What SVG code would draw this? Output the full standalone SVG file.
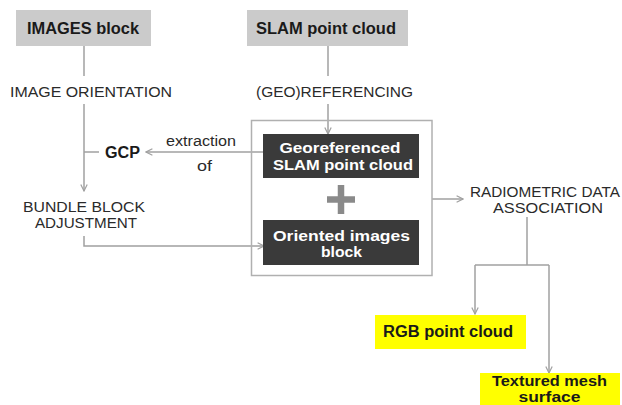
<svg xmlns="http://www.w3.org/2000/svg" width="622" height="405" viewBox="0 0 622 405">
<defs>
<style>
text{font-family:"Liberation Sans",Arial,sans-serif;}
.lbl{font-size:14px;fill:#2a2a2a;text-anchor:middle;}
.hdr{font-size:16px;font-weight:bold;fill:#1a1a1a;text-anchor:middle;}
.hdr2{font-size:14px;font-weight:bold;fill:#1a1a1a;text-anchor:middle;}
.dk{font-size:15px;font-weight:bold;fill:#ffffff;text-anchor:middle;}
.dk2{font-size:14px;font-weight:bold;fill:#ffffff;text-anchor:middle;}
.gray{fill:#cbcbcb;}
.dark{fill:#3a3a3a;}
.yel{fill:#ffff00;}
.ln{fill:none;stroke:#a0a0a0;stroke-width:1.5;}
</style>
<marker id="ah" viewBox="0 0 10 10" refX="9" refY="5" markerWidth="8" markerHeight="8" orient="auto" markerUnits="userSpaceOnUse">
<path d="M1,1 L9,5 L1,9" fill="none" stroke="#a0a0a0" stroke-width="1.5"/>
</marker>
</defs>
<rect width="622" height="405" fill="#ffffff"/>
<g id="connectors">
<path class="ln" d="M84,46 V76"/>
<path class="ln" d="M84,104 V191" marker-end="url(#ah)"/>
<path class="ln" d="M84,152 H99"/>
<path class="ln" d="M84,236 V246 H264" marker-end="url(#ah)"/>
<path class="ln" d="M328,46 V76"/>
<path class="ln" d="M328,104 V134" marker-end="url(#ah)"/>
<path class="ln" d="M263,152 H146" marker-end="url(#ah)"/>
<path class="ln" d="M432,199 H463" marker-end="url(#ah)"/>
<path class="ln" d="M527,217 V265"/>
<path class="ln" d="M475,265 H549"/>
<path class="ln" d="M475,265 V314" marker-end="url(#ah)"/>
<path class="ln" d="M549,265 V373" marker-end="url(#ah)"/>
</g>
<g id="images-block">
<rect class="gray" x="16" y="10" width="135" height="36"/>
<text class="hdr" x="83" y="34" textLength="112" lengthAdjust="spacingAndGlyphs">IMAGES block</text>
</g>
<g id="slam-point-cloud">
<rect class="gray" x="247" y="10" width="161" height="36"/>
<text class="hdr" x="326" y="34" textLength="140" lengthAdjust="spacingAndGlyphs">SLAM point cloud</text>
</g>
<g id="image-orientation">
<text class="lbl" x="91" y="97" textLength="162" lengthAdjust="spacingAndGlyphs">IMAGE ORIENTATION</text>
</g>
<g id="georeferencing">
<text class="lbl" x="334.5" y="97" textLength="157" lengthAdjust="spacingAndGlyphs">(GEO)REFERENCING</text>
</g>
<g id="gcp">
<text class="hdr" x="122.5" y="158" textLength="35" lengthAdjust="spacingAndGlyphs">GCP</text>
</g>
<g id="extraction-of">
<text class="lbl" x="201" y="146" textLength="70" lengthAdjust="spacingAndGlyphs">extraction</text>
<text class="lbl" x="204.5" y="171" textLength="15" lengthAdjust="spacingAndGlyphs">of</text>
</g>
<g id="bundle-block-adjustment">
<text class="lbl" x="84" y="212" textLength="122" lengthAdjust="spacingAndGlyphs">BUNDLE BLOCK</text>
<text class="lbl" x="86" y="228" textLength="102" lengthAdjust="spacingAndGlyphs">ADJUSTMENT</text>
</g>
<g id="combined-box">
<rect x="251.5" y="120.5" width="180.5" height="155" fill="none" stroke="#b0b0b0" stroke-width="1.5"/>
</g>
<g id="georeferenced-slam">
<rect class="dark" x="263" y="134" width="156" height="44"/>
<text class="dk" x="340" y="153" textLength="121" lengthAdjust="spacingAndGlyphs">Georeferenced</text>
<text class="dk" x="343" y="170" textLength="140" lengthAdjust="spacingAndGlyphs">SLAM point cloud</text>
</g>
<g id="plus">
<path d="M327,199.5 H355 M341,185 V214" stroke="#8a8a8a" stroke-width="6.5" fill="none"/>
</g>
<g id="oriented-images">
<rect class="dark" x="263" y="220" width="156" height="45"/>
<text class="dk2" x="341.5" y="241" textLength="137" lengthAdjust="spacingAndGlyphs">Oriented images</text>
<text class="dk2" x="341.5" y="257" textLength="41" lengthAdjust="spacingAndGlyphs">block</text>
</g>
<g id="radiometric">
<text class="lbl" x="545" y="197" textLength="150" lengthAdjust="spacingAndGlyphs">RADIOMETRIC DATA</text>
<text class="lbl" x="548" y="213" textLength="110" lengthAdjust="spacingAndGlyphs">ASSOCIATION</text>
</g>
<g id="rgb-point-cloud">
<rect class="yel" x="375" y="315" width="151" height="34"/>
<text class="hdr" x="448" y="337" textLength="130" lengthAdjust="spacingAndGlyphs">RGB point cloud</text>
</g>
<g id="textured-mesh">
<rect class="yel" x="480" y="373" width="140" height="32"/>
<text class="hdr2" x="549.5" y="386" textLength="115" lengthAdjust="spacingAndGlyphs">Textured mesh</text>
<text class="hdr2" x="549.5" y="402" textLength="62" lengthAdjust="spacingAndGlyphs">surface</text>
</g>
</svg>
